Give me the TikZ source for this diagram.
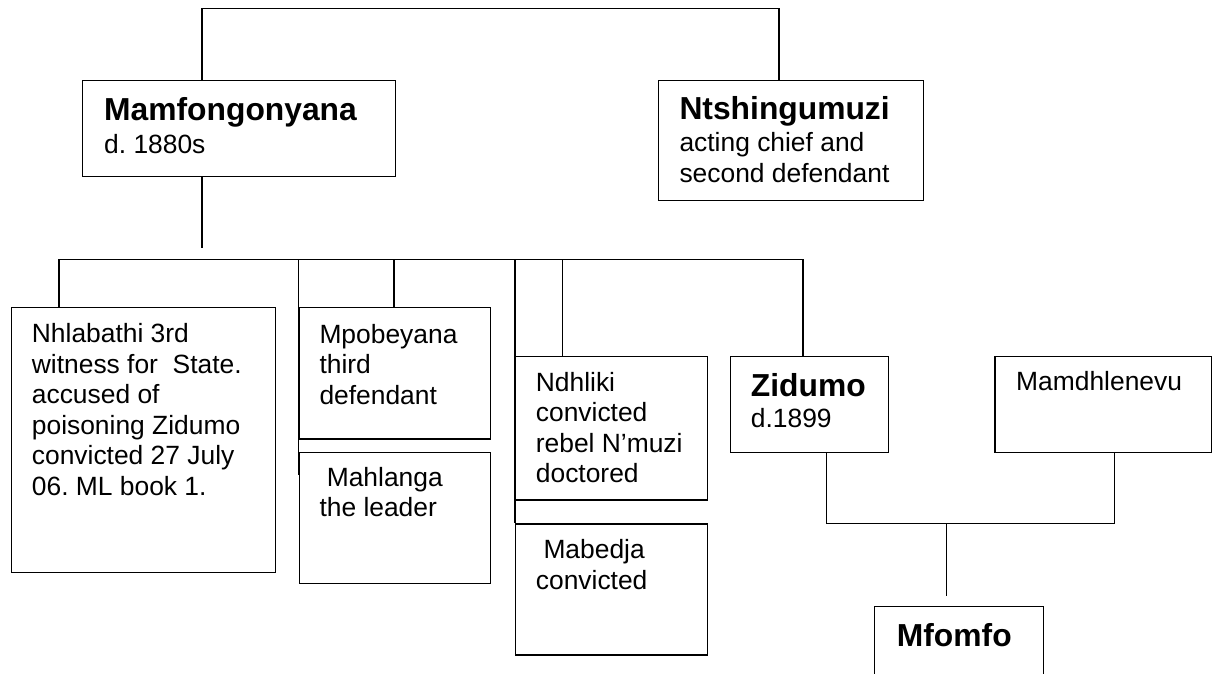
\documentclass[tikz,border=0pt]{standalone}
\usepackage{fontspec}
\setmainfont{Liberation Sans}
\newcommand\bnfont{\fontsize{31.8}{32}\selectfont\bfseries}
\frenchspacing
\begin{document}
\begin{tikzpicture}[x=1pt,y=-1pt,
  box/.style={draw, line width=1.2pt, inner sep=0pt, anchor=north west},
  conn/.style={line width=1.2pt},
  txt/.style={inner sep=0pt, anchor=base west, align=left,
              font=\fontsize{26.4}{30.6}\selectfont}]
\useasboundingbox (0,0) rectangle (1212,674);
\fill[white] (0,0) rectangle (1212,674);
\clip (0,0) rectangle (1212,674);

% boxes
\node[box, minimum width=313pt, minimum height=96pt]   (mamf) at (82,80) {};
\node[box, minimum width=265pt, minimum height=120pt]  (ntsh) at (658,80) {};
\node[box, minimum width=264.5pt, minimum height=265pt] (nhla) at (10.5,306.7) {};
\node[box, minimum width=191.5pt, minimum height=131.6pt] (mpob) at (298.5,306.7) {};
\node[box, minimum width=191.5pt, minimum height=131pt] (mahl) at (298.5,451.7) {};
\node[box, minimum width=191.7pt, minimum height=143.6pt] (ndhl) at (515,355.7) {};
\node[box, minimum width=191.7pt, minimum height=131pt] (mabe) at (515,523.3) {};
\node[box, minimum width=158pt, minimum height=96pt]   (zidu) at (730,355.7) {};
\node[box, minimum width=216.4pt, minimum height=96pt] (mamd) at (994.3,355.7) {};
\node[box, minimum width=168.7pt, minimum height=100pt] (mfom) at (874,606) {};

% texts (base anchor = baseline of the last line)
\node[txt] (tmamf) at (104,153.3) {{\bnfont Mamfongonyana}\\[2pt]d. 1880s};
\node[txt] (tntsh) at (679.3,182) {{\bnfont Ntshingumuzi}\\[1.5pt]acting chief and\\second defendant};
\node[txt] (tnhla) at (31.7,495.5) {Nhlabathi 3rd\\witness for\ \ State.\\accused of\\poisoning Zidumo\\convicted 27 July\\06. ML book 1.};
\node[txt] (tmpob) at (319.3,404.2) {Mpobeyana\\third\\defendant};
\node[txt] (tmahl) at (319.3,516.7) {\hspace*{7.3pt}Mahlanga\\the leader};
\node[txt] (tndhl) at (535.7,482.8) {Ndhliki\\convicted\\rebel N’muzi\\doctored};
\node[txt] (tmabe) at (535.7,589.3) {\hspace*{7.6pt}Mabedja\\convicted};
\node[txt] (tzidu) at (750.7,427.7) {{\bnfont Zidumo}\\[1pt]d.1899};
\node[txt] (tmamd) at (1016,390.7) {Mamdhlenevu};
\node[txt, font=\bnfont] (tmfom) at (896.7,646.7) {Mfomfo};

% junction coordinates
\coordinate (topL) at (202,8.3);
\coordinate (topR) at (779,8.3);
\coordinate (mdrop) at (202,248);
\coordinate (barL) at (59,259.3);
\coordinate (barR) at (803,259.3);
\coordinate (c2) at (298.5,259.3);
\coordinate (c2end) at (298.5,475);
\coordinate (c3) at (394,259.3);
\coordinate (c4) at (515,259.3);
\coordinate (c5) at (562.7,259.3);
\coordinate (j1) at (826.7,523.3);
\coordinate (j2) at (1114.7,523.3);
\coordinate (jm) at (946.7,523.3);
\coordinate (mdrop2) at (946.7,596);

% connectors
\draw[conn] (mamf.north -| topL) |- (topR) -- (ntsh.north -| topR);
\draw[conn] (mamf.south -| topL) -- (mdrop);
\draw[conn] (nhla.north -| barL) |- (barR) -- (zidu.north -| barR);
\draw[conn] (c2) -- (c2end);
\draw[conn] (c3) -- (mpob.north -| c3);
\draw[conn] (c4) -- (mabe.north west);
\draw[conn] (c5) -- (ndhl.north -| c5);
\draw[conn] (zidu.south -| j1) |- (j2) -- (mamd.south -| j2);
\draw[conn] (jm) -- (mdrop2);
\end{tikzpicture}
\end{document}
